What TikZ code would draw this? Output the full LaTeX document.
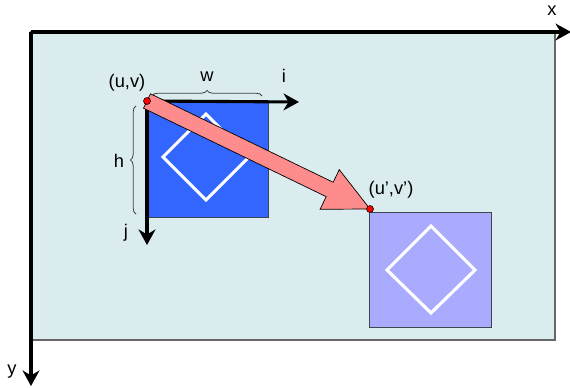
\documentclass[tikz,border=0pt]{standalone}
\usepackage{fontspec}
\setmainfont{Liberation Sans}
\usetikzlibrary{arrows.meta,calc,decorations.pathreplacing}
\definecolor{canvasbg}{HTML}{DAECEE}
\definecolor{srcblue}{HTML}{3366FF}
\definecolor{dstblue}{HTML}{AAAAFF}
\definecolor{arrowpink}{HTML}{FF8C8C}
\definecolor{edgegray}{HTML}{3C4650}

\begin{document}
\begin{tikzpicture}[x=0.025cm, y=-0.025cm, >={Stealth[length=11pt, width=12pt, inset=3.5pt]}, font=\fontsize{13}{15}\selectfont,
  axis/.style={->, line width=2.2pt},
  patch/.style={draw=edgegray, line width=0.6pt},
  rhomb/.style={white, line width=2.2pt},
  bracket/.style={decorate, decoration={brace, amplitude=4pt}, draw=black!75, line width=0.6pt},
  corner/.style={fill=red, draw=black, line width=0.4pt}]
\useasboundingbox (0,0) rectangle (570,387);
\draw[fill=canvasbg, draw=black!60, line width=0.8pt] (31,32) rectangle (555,340);
\coordinate (uv) at (147,101);
\coordinate (uvp) at (370,209);
% source and target patches
\draw[patch, fill=srcblue] (147,102) rectangle (268,217);
\draw[rhomb] (206,114) -- (249,157) -- (206,200) -- (163,157) -- cycle;
\draw[patch, fill=dstblue] (369,212) rectangle (491,327);
\draw[rhomb] (431,226) -- (475,270) -- (431,313) -- (387,270) -- cycle;
% image axes
\draw[axis] (31,32) -- (571,32);
\draw[axis] (31,32) -- (31,386);
\node (xlab) at (552,11) {x};
\node (ylab) at (12,372) {y};
% patch axes
\draw[axis] (uv) -- (299,102);
\draw[axis] (uv) -- (147,245);
\node (ilab) at (284,76) {i};
\node (jlab) at (126,233) {j};
\draw[bracket] (152,96) -- (262,96);
\draw[bracket] (136,214) -- (136,106);
\node (wlab) at (207,77) {w};
\node (hlab) at (119,161) {h};
% displacement
\coordinate (hb) at ($(uvp)!1.12cm!(uv)$);
\draw[fill=arrowpink, draw=black, line width=0.5pt]
  ($(uv)!0.2cm!90:(uvp)$) -- ($(hb)!0.2cm!90:(uvp)$) -- ($(hb)!0.55cm!90:(uvp)$) -- (uvp)
  -- ($(hb)!0.55cm!-90:(uvp)$) -- ($(hb)!0.2cm!-90:(uvp)$) -- ($(uv)!0.2cm!-90:(uvp)$) -- cycle;
\fill[corner] (uv) circle (3.5);
\fill[corner] (uvp) circle (3.5);
\node (uvlab) at (127,83) {(u,v)};
\node (uvplab) at (391,190) {(u’,v’)};
\end{tikzpicture}
\end{document}
